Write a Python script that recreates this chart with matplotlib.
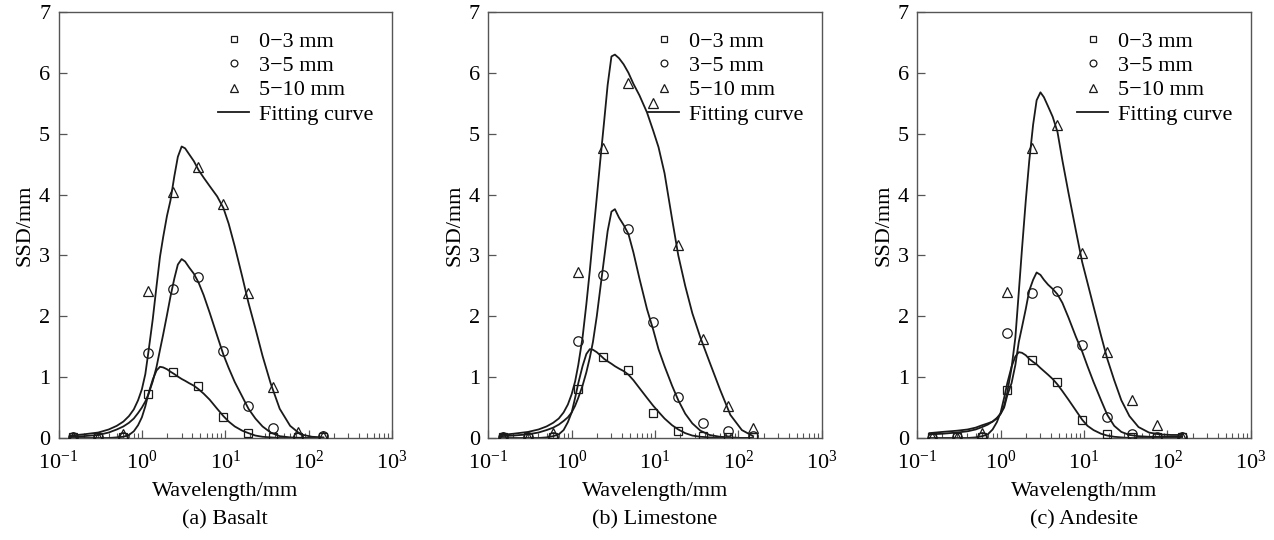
import matplotlib
matplotlib.use('Agg')
import matplotlib.pyplot as plt
from matplotlib.lines import Line2D
from matplotlib.ticker import LogLocator, NullFormatter, FixedLocator

plt.rcParams['font.family'] = ['Liberation Serif', 'DejaVu Serif']
plt.rcParams['mathtext.fontset'] = 'custom'
plt.rcParams['mathtext.rm'] = 'Liberation Serif'
plt.rcParams['mathtext.it'] = 'Liberation Serif:italic'
plt.rcParams['font.size'] = 16

# ---------------- data ----------------
wavelength = [0.15, 0.3, 0.6, 1.18, 2.36, 4.75, 9.5, 19, 37.5, 75, 150]

basalt_0_3 = [0.01, 0.01, 0.01, 0.72, 1.08, 0.85, 0.34, 0.09, 0.02, 0.01, 0.01]
basalt_3_5 = [0.01, 0.01, 0.02, 1.40, 2.45, 2.64, 1.43, 0.53, 0.17, 0.02, 0.03]
basalt_5_10 = [0.02, 0.01, 0.07, 2.41, 4.05, 4.45, 3.85, 2.38, 0.84, 0.10, 0.04]

limestone_0_3 = [0.01, 0.01, 0.01, 0.81, 1.33, 1.12, 0.41, 0.12, 0.03, 0.01, 0.01]
limestone_3_5 = [0.01, 0.01, 0.02, 1.60, 2.68, 3.43, 1.90, 0.67, 0.24, 0.11, 0.04]
limestone_5_10 = [0.02, 0.01, 0.09, 2.73, 4.76, 5.83, 5.50, 3.17, 1.63, 0.52, 0.16]

andesite_0_3 = [0.01, 0.01, 0.02, 0.79, 1.28, 0.92, 0.30, 0.07, 0.01, 0.01, 0.01]
andesite_3_5 = [0.00, 0.01, 0.02, 1.73, 2.38, 2.42, 1.52, 0.34, 0.06, 0.01, 0.01]
andesite_5_10 = [0.01, 0.01, 0.09, 2.40, 4.77, 5.15, 3.04, 1.42, 0.62, 0.21, 0.02]

# fitting curves
wl_fit = [0.14, 0.2, 0.3, 0.4, 0.5, 0.6, 0.7, 0.8, 0.9, 1.0, 1.1, 1.2, 1.35, 1.5,
          1.65, 1.8, 2.0, 2.2, 2.45, 2.7, 3.0, 3.3, 3.7, 4.2, 4.8, 5.5, 6.5, 8,
          9.5, 11, 13, 16, 19, 23, 28, 35, 45, 60, 80, 110, 150]

fit_basalt_0_3 = [0, 0, 0, 0, 0.01, 0.02, 0.05, 0.11, 0.21, 0.34, 0.52, 0.73, 0.96, 1.11,
                  1.17, 1.16, 1.13, 1.09, 1.05, 1.01, 0.97, 0.94, 0.90, 0.86, 0.80, 0.73, 0.63, 0.48,
                  0.36, 0.27, 0.19, 0.12, 0.08, 0.04, 0.02, 0.01, 0, 0, 0, 0, 0]
fit_basalt_3_5 = [0.02, 0.03, 0.05, 0.09, 0.14, 0.19, 0.25, 0.32, 0.41, 0.50, 0.60, 0.72, 0.93, 1.17,
                  1.45, 1.70, 2.02, 2.32, 2.62, 2.85, 2.94, 2.90, 2.80, 2.70, 2.55, 2.35, 2.06, 1.68,
                  1.37, 1.15, 0.92, 0.68, 0.48, 0.32, 0.19, 0.09, 0.03, 0.01, 0, 0, 0]
fit_basalt_5_10 = [0.04, 0.06, 0.09, 0.14, 0.20, 0.27, 0.36, 0.47, 0.62, 0.80, 1.05, 1.42, 1.95, 2.50,
                   2.98, 3.30, 3.65, 3.90, 4.30, 4.62, 4.79, 4.76, 4.66, 4.55, 4.40, 4.28, 4.14, 3.97,
                   3.78, 3.52, 3.15, 2.65, 2.22, 1.80, 1.35, 0.90, 0.48, 0.20, 0.06, 0.02, 0.01]

fit_limestone_0_3 = [0, 0, 0, 0, 0.01, 0.03, 0.06, 0.13, 0.26, 0.42, 0.66, 0.90, 1.18, 1.38,
                     1.46, 1.45, 1.41, 1.36, 1.30, 1.26, 1.22, 1.18, 1.14, 1.10, 1.04, 0.95, 0.82, 0.66,
                     0.53, 0.43, 0.32, 0.21, 0.14, 0.08, 0.04, 0.02, 0.01, 0, 0, 0, 0]
fit_limestone_3_5 = [0.03, 0.04, 0.06, 0.09, 0.13, 0.17, 0.22, 0.28, 0.34, 0.42, 0.53, 0.66, 0.86, 1.08,
                     1.32, 1.58, 2.00, 2.45, 2.95, 3.40, 3.72, 3.76, 3.62, 3.50, 3.35, 3.05, 2.62, 2.12,
                     1.78, 1.46, 1.18, 0.86, 0.62, 0.40, 0.24, 0.12, 0.05, 0.02, 0.01, 0, 0]
fit_limestone_5_10 = [0.05, 0.07, 0.10, 0.14, 0.19, 0.25, 0.32, 0.42, 0.55, 0.72, 0.93, 1.20, 1.65, 2.20,
                      2.75, 3.30, 3.95, 4.55, 5.20, 5.80, 6.27, 6.30, 6.24, 6.14, 6.00, 5.82, 5.63, 5.35,
                      5.05, 4.78, 4.35, 3.60, 3.00, 2.50, 2.05, 1.65, 1.25, 0.80, 0.38, 0.13, 0.03]

fit_andesite_0_3 = [0, 0, 0, 0, 0.01, 0.03, 0.06, 0.14, 0.26, 0.42, 0.66, 0.90, 1.17, 1.34,
                    1.41, 1.40, 1.36, 1.30, 1.25, 1.21, 1.15, 1.10, 1.04, 0.97, 0.88, 0.77, 0.63, 0.45,
                    0.30, 0.20, 0.13, 0.07, 0.04, 0.02, 0.01, 0, 0, 0, 0, 0, 0]
fit_andesite_3_5 = [0.06, 0.07, 0.09, 0.11, 0.14, 0.18, 0.22, 0.27, 0.33, 0.40, 0.50, 0.70, 0.90, 1.20,
                    1.58, 1.82, 2.12, 2.42, 2.60, 2.72, 2.68, 2.60, 2.52, 2.45, 2.36, 2.22, 1.98, 1.66,
                    1.42, 1.18, 0.92, 0.62, 0.38, 0.20, 0.10, 0.05, 0.03, 0.02, 0.02, 0.02, 0.02]
fit_andesite_5_10 = [0.08, 0.10, 0.12, 0.14, 0.17, 0.21, 0.24, 0.27, 0.32, 0.40, 0.53, 0.75, 1.15, 1.65,
                     2.40, 3.10, 3.90, 4.55, 5.15, 5.55, 5.68, 5.60, 5.45, 5.28, 5.03, 4.56, 4.03, 3.40,
                     2.89, 2.55, 2.16, 1.68, 1.30, 0.95, 0.62, 0.36, 0.18, 0.09, 0.06, 0.05, 0.05]

series_labels = ['0\u22123 mm', '3\u22125 mm', '5\u221210 mm']
fit_label = 'Fitting curve'
panel_titles = ['(a) Basalt', '(b) Limestone', '(c) Andesite']
x_label = 'Wavelength/mm'
y_label = 'SSD/mm'

panels = [
    (panel_titles[0], [basalt_0_3, basalt_3_5, basalt_5_10],
     [fit_basalt_0_3, fit_basalt_3_5, fit_basalt_5_10]),
    (panel_titles[1], [limestone_0_3, limestone_3_5, limestone_5_10],
     [fit_limestone_0_3, fit_limestone_3_5, fit_limestone_5_10]),
    (panel_titles[2], [andesite_0_3, andesite_3_5, andesite_5_10],
     [fit_andesite_0_3, fit_andesite_3_5, fit_andesite_5_10]),
]

# ---------------- style ----------------
markers = ['s', 'o', '^']
msizes = [6.0, 6.8, 7.5]
ink = '#1a1a1a'
spine_col = '#555555'

W, H = 1274, 540
fig = plt.figure(figsize=(W / 100, H / 100), dpi=100)
lefts_px = [58.5, 488.3, 917.3]
ax_w_px = 333.5
top_px, bot_px = 12, 438

for (title, obs, fits), lp in zip(panels, lefts_px):
    ax = fig.add_axes([lp / W, 1 - bot_px / H, ax_w_px / W, (bot_px - top_px) / H])
    for f in fits:
        ax.plot(wl_fit, f, color=ink, lw=1.3, zorder=2, solid_joinstyle='round')
    for vals, m, ms in zip(obs, markers, msizes):
        ax.plot(wavelength, vals, linestyle='none', marker=m, ms=ms,
                mfc='none', mec=ink, mew=0.9, zorder=3)
    ax.set_xscale('log')
    ax.set_xlim(0.1, 1000)
    ax.set_ylim(0, 7)
    ax.yaxis.set_major_locator(FixedLocator(range(0, 8)))
    ax.xaxis.set_major_locator(LogLocator(base=10, numticks=10))
    ax.xaxis.set_minor_locator(LogLocator(base=10, subs=range(2, 10), numticks=20))
    ax.xaxis.set_minor_formatter(NullFormatter())
    ax.tick_params(which='both', direction='in', top=False, right=False,
                   color=spine_col, labelsize=16)
    ax.tick_params(axis='x', pad=9)
    ax.tick_params(axis='y', pad=6)
    ax.tick_params(which='major', length=6, width=0.9)
    ax.tick_params(which='minor', length=3.5, width=0.8)
    for s in ax.spines.values():
        s.set_color(spine_col)
        s.set_linewidth(1.0)
    ax.set_xlabel(x_label, fontsize=16, labelpad=6)
    ax.set_ylabel(y_label, fontsize=16, labelpad=3)
    ax.text(0.5, -0.193, title, transform=ax.transAxes, ha='center', va='center', fontsize=16)

    handles = [Line2D([], [], linestyle='none', marker=m, ms=ms * 0.72, mfc='none',
                      mec=ink, mew=0.9) for m, ms in zip(markers, msizes)]
    handles.append(Line2D([], [], color=ink, lw=1.3))
    ax.legend(handles, series_labels + [fit_label], loc='upper right',
              bbox_to_anchor=(0.945, 0.955), frameon=False, fontsize=16,
              handlelength=1.4, handletextpad=0.45, labelspacing=0.17,
              borderpad=0, borderaxespad=0)

fig.savefig('out.png', dpi=100)
